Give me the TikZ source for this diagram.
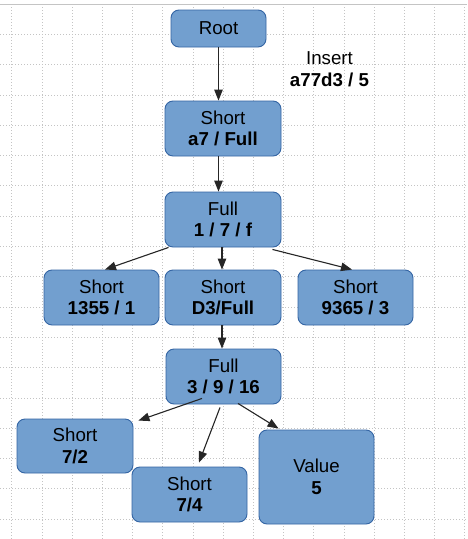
\documentclass[tikz,border=0pt]{standalone}
\usepackage{fontspec}
\setmainfont{Liberation Sans}
\usetikzlibrary{arrows.meta}
\definecolor{boxfill}{HTML}{729FCF}
\definecolor{boxline}{HTML}{3465A4}
\definecolor{gridc}{HTML}{C4C4C4}
\tikzset{
  treebox/.style={draw=boxline, fill=boxfill, line width=0.9pt, rounded corners=8pt,
    align=center, inner sep=0pt, font=\fontsize{18.7}{21.7}\selectfont},
  conn/.style={line width=1.1pt, draw=black!85, -{Triangle[length=11pt,width=8.5pt]}},
  gridline/.style={gridc, line width=0.8pt, dash pattern=on 1pt off 2pt},
}
\begin{document}
\begin{tikzpicture}[x=1pt,y=-1pt]
\useasboundingbox (0,0) rectangle (467,539);
\fill[white] (0,0) rectangle (467,539);
% grid
\foreach \k in {0,...,15} {\draw[gridline] ({11.7+30.2*\k},4) -- ({11.7+30.2*\k},539);}
\foreach \k in {1,...,17} {\draw[gridline] (0,{4+30.3*\k}) -- (467,{4+30.3*\k});}
\draw[gridc, line width=1pt] (0,4) -- (467,4);
% nodes
\node[treebox, minimum width=95pt, minimum height=37pt] (root) at (218.5,28.5) {Root};
\node[treebox, minimum width=116pt, minimum height=55pt] (sa7) at (223,128.5) {Short\\\textbf{a7 / Full}};
\node[treebox, minimum width=116pt, minimum height=55pt] (full1) at (223,219.5) {Full\\\textbf{1 / 7 / f}};
\node[treebox, minimum width=115pt, minimum height=55pt] (s1355) at (101.5,297.5) {Short\\\textbf{1355 / 1}};
\node[treebox, minimum width=116pt, minimum height=55pt] (sd3) at (223,297.5) {Short\\\textbf{D3/Full}};
\node[treebox, minimum width=115pt, minimum height=55pt] (s9365) at (355.5,297.5) {Short\\\textbf{9365 / 3}};
\node[treebox, minimum width=115pt, minimum height=55pt] (full2) at (223.5,376.5) {Full\\\textbf{3 / 9 / 16}};
\node[treebox, minimum width=116pt, minimum height=54pt] (s72) at (75,446) {Short\\\textbf{7/2}};
\node[treebox, minimum width=115pt, minimum height=55pt] (s74) at (189.5,494.5) {Short\\\textbf{7/4}};
\node[treebox, minimum width=115pt, minimum height=94pt] (val) at (316.5,477) {Value\\\textbf{5}};
\node[align=center, inner sep=0pt, font=\fontsize{18.7}{21.7}\selectfont] (insert) at (329.5,69) {Insert\\\textbf{a77d3 / 5}};
% connectors
\draw[conn] (root.south) -- (root.south |- sa7.north);
\draw[conn] (sa7.south -| root.south) -- (root.south |- full1.north);
\draw[conn] ([xshift=4pt]full1.south west) -- ([xshift=3.5pt]s1355.north);
\draw[conn] ([xshift=-1pt]full1.south) -- ([xshift=-1pt]sd3.north);
\draw[conn] ([xshift=-9pt,yshift=-2pt]full1.south east) -- ([xshift=-3.5pt]s9365.north);
\draw[conn] ([xshift=-1pt]sd3.south) -- ([xshift=-1.5pt]full2.north);
\draw[conn] ([xshift=-21.5pt,yshift=6pt]full2.south) -- ([xshift=5pt,yshift=-2pt]s72.north east);
\draw[conn] ([xshift=-3.5pt,yshift=-3pt]full2.south) -- ([xshift=9.5pt,yshift=4pt]s74.north);
\draw[conn] ([xshift=14.5pt,yshift=1pt]full2.south) -- ([xshift=20pt,yshift=1pt]val.north west);
\end{tikzpicture}
\end{document}
